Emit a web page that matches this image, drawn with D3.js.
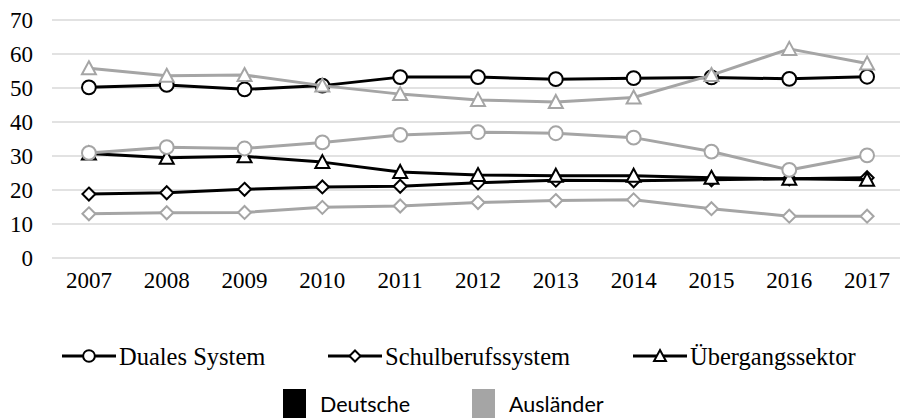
<!DOCTYPE html>
<html>
<head>
<meta charset="utf-8">
<script src="https://cdn.jsdelivr.net/npm/d3@7"></script>
<style>
  body { margin: 0; background: #fff; }
  svg { display: block; }
</style>
</head>
<body>
<div id="chart"></div>
<script>
// Jahre und Werte (Anteile in %)
const years = ['2007', '2008', '2009', '2010', '2011', '2012', '2013', '2014', '2015', '2016', '2017'];
const yTicks = [0, 10, 20, 30, 40, 50, 60, 70];

const dualesDeutsche   = [50.2, 50.9, 49.6, 50.7, 53.2, 53.2, 52.6, 52.9, 53.1, 52.7, 53.3];
const schulDeutsche    = [18.8, 19.2, 20.2, 20.9, 21.1, 22.1, 22.9, 22.7, 23.0, 23.3, 23.6];
const uebergDeutsche   = [30.7, 29.5, 29.9, 28.2, 25.3, 24.4, 24.2, 24.2, 23.6, 23.3, 23.0];
const dualesAuslaender = [30.9, 32.6, 32.2, 34.0, 36.2, 37.0, 36.7, 35.4, 31.3, 25.9, 30.2];
const schulAuslaender  = [13.0, 13.3, 13.4, 14.9, 15.3, 16.3, 16.9, 17.1, 14.5, 12.3, 12.3];
const uebergAuslaender = [55.8, 53.6, 53.8, 50.7, 48.2, 46.5, 45.9, 47.2, 53.8, 61.5, 57.2];

const systems = ['Duales System', 'Schulberufssystem', 'Übergangssektor'];
const groups = ['Deutsche', 'Ausländer'];

const colors = { 'Deutsche': '#000000', 'Ausländer': '#a5a5a5' };
const shapes = { 'Duales System': 'circle', 'Schulberufssystem': 'diamond', 'Übergangssektor': 'triangle' };

const series = [
  { system: 'Duales System', group: 'Deutsche', values: dualesDeutsche },
  { system: 'Schulberufssystem', group: 'Deutsche', values: schulDeutsche },
  { system: 'Übergangssektor', group: 'Deutsche', values: uebergDeutsche },
  { system: 'Duales System', group: 'Ausländer', values: dualesAuslaender },
  { system: 'Schulberufssystem', group: 'Ausländer', values: schulAuslaender },
  { system: 'Übergangssektor', group: 'Ausländer', values: uebergAuslaender }
];

const width = 904, height = 418;
const serif = '"Liberation Serif", "Times New Roman", serif';

const svg = d3.select('#chart').append('svg')
  .attr('width', width)
  .attr('height', height);

const x = d3.scaleBand().domain(years).range([50, 906]);
const y = d3.scaleLinear().domain([0, 70]).range([258, 20]);

// Gitterlinien
svg.append('g')
  .selectAll('line')
  .data(yTicks)
  .enter().append('line')
  .attr('x1', 52)
  .attr('x2', 900)
  .attr('y1', d => y(d))
  .attr('y2', d => y(d))
  .attr('stroke', '#d9d9d9')
  .attr('stroke-width', 1.3);

// Y-Achse
const yAxis = svg.append('g')
  .attr('transform', 'translate(33,0)')
  .call(d3.axisLeft(y).tickValues(yTicks).tickSize(0).tickPadding(0));
yAxis.select('.domain').remove();
yAxis.selectAll('text')
  .attr('font-family', serif)
  .attr('font-size', 23)
  .attr('fill', '#000');

// X-Achse
const xAxis = svg.append('g')
  .attr('transform', 'translate(0,272)')
  .call(d3.axisBottom(x).tickSize(0).tickPadding(0));
xAxis.select('.domain').remove();
xAxis.selectAll('text')
  .attr('font-family', serif)
  .attr('font-size', 23)
  .attr('fill', '#000');

// Markerform
function markerPath(shape, k = 1) {
  if (shape === 'circle') return d3.symbol(d3.symbolCircle, 150 * k * k)();
  if (shape === 'diamond') return `M0,${-6.5 * k}L${6.5 * k},0L0,${6.5 * k}L${-6.5 * k},0Z`;
  return `M0,${-7 * k}L${7 * k},${6 * k}L${-7 * k},${6 * k}Z`;
}

const line = d3.line()
  .x((d, i) => x(years[i]) + x.bandwidth() / 2)
  .y(d => y(d));

series.forEach(s => {
  const g = svg.append('g');
  g.append('path')
    .datum(s.values)
    .attr('d', line)
    .attr('fill', 'none')
    .attr('stroke', colors[s.group])
    .attr('stroke-width', 3)
    .attr('stroke-linejoin', 'round');

  g.selectAll('path.marker')
    .data(s.values)
    .enter().append('path')
    .attr('class', 'marker')
    .attr('d', markerPath(shapes[s.system]))
    .attr('transform', (d, i) => `translate(${x(years[i]) + x.bandwidth() / 2},${y(d)})`)
    .attr('fill', '#fff')
    .attr('stroke', colors[s.group])
    .attr('stroke-width', 2);
});

// Legende 1: Systeme
const legendX = { 'Duales System': 62, 'Schulberufssystem': 328, 'Übergangssektor': 633 };
const legend1 = svg.append('g');
systems.forEach(sys => {
  const lx = legendX[sys];
  const ly = 356;
  legend1.append('line')
    .attr('x1', lx).attr('x2', lx + 54)
    .attr('y1', ly).attr('y2', ly)
    .attr('stroke', '#000')
    .attr('stroke-width', 3);
  legend1.append('path')
    .attr('d', markerPath(shapes[sys], 0.85))
    .attr('transform', `translate(${lx + 27},${ly})`)
    .attr('fill', '#fff')
    .attr('stroke', '#000')
    .attr('stroke-width', 2);
  legend1.append('text')
    .attr('x', lx + 57)
    .attr('y', ly + 9)
    .attr('font-family', serif)
    .attr('font-size', 24.5)
    .text(sys);
});

// Legende 2: Gruppen
const legend2X = { 'Deutsche': 283, 'Ausländer': 472 };
const legend2 = svg.append('g');
groups.forEach(gr => {
  const lx = legend2X[gr];
  legend2.append('rect')
    .attr('x', lx).attr('y', 389)
    .attr('width', 23).attr('height', 29)
    .attr('fill', colors[gr]);
  legend2.append('text')
    .attr('x', lx + 37)
    .attr('y', 412)
    .attr('font-family', 'Lato, "Noto Sans", sans-serif')
    .attr('font-size', 21.5)
    .attr('fill', '#000')
    .text(gr);
});
</script>
</body>
</html>
